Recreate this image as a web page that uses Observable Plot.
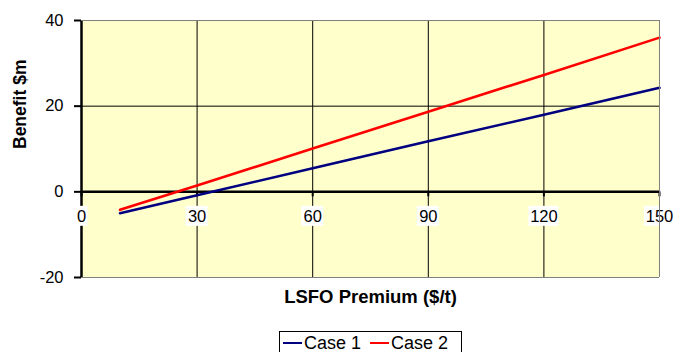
<!DOCTYPE html>
<html>
<head>
<meta charset="utf-8">
<script src="https://cdn.jsdelivr.net/npm/d3@7"></script>
<script src="https://cdn.jsdelivr.net/npm/@observablehq/plot@0.6"></script>
<style>
  html, body { margin: 0; padding: 0; background: #ffffff; }
  body { width: 674px; height: 352px; overflow: hidden; position: relative;
         font-family: "Liberation Sans", Arial, sans-serif; }
  #legend { position: absolute; left: 279px; top: 331px; width: 178px; height: 21px;
            border: 1px solid #000; border-bottom: none; background: #fff; display: flex; align-items: flex-start;
            font-size: 18px; line-height: 20px; color: #000; padding-left: 3px; box-sizing: content-box; }
  #legend .item { display: flex; align-items: center; margin-right: 9px; height: 20px; margin-top: 1px; }
  #legend .swatch { width: 19px; height: 0; border-top: 2.5px solid; margin-right: 2px; }
</style>
</head>
<body>
<div id="chart"></div>
<div id="legend"></div>
<script>
// LSFO premium ($/t) and the resulting benefit ($m) for each case
const premium = [10, 30, 60, 90, 120, 150];
const case1 = [-5.0, -0.8, 5.5, 11.8, 18.0, 24.3];
const case2 = [-4.2, 1.5, 10.1, 18.7, 27.3, 36.0];
const seriesNames = ["Case 1", "Case 2"];
const seriesColors = ["#000080", "#ff0000"];

const xTicks = [0, 30, 60, 90, 120, 150];
const yTicks = [-20, 0, 20, 40];

const rows = [
  ...premium.map((p, i) => ({premium: p, benefit: case1[i], series: seriesNames[0]})),
  ...premium.map((p, i) => ({premium: p, benefit: case2[i], series: seriesNames[1]}))
];

// white label boxes sized by the number of digits in each tick label
const labelBox = (digits, w) => Plot.rect(xTicks.filter(t => String(t).length === digits), {
  x1: d => d, x2: d => d, y1: 0, y2: 0,
  insetLeft: -w / 2, insetRight: -w / 2, insetTop: -10, insetBottom: -10, dy: 24.5,
  fill: "white"
});

const chart = Plot.plot({
  width: 674,
  height: 326,
  marginLeft: 81,
  marginRight: 15,
  marginTop: 20,
  marginBottom: 49,
  style: {fontFamily: "'Liberation Sans', Arial, sans-serif", background: "transparent"},
  x: {domain: [0, 150], axis: null},
  y: {domain: [-20, 40], axis: null},
  color: {domain: seriesNames, range: seriesColors},
  marks: [
    Plot.frame({fill: "#ffffcc", stroke: null}),
    Plot.ruleX(xTicks.filter(t => t > 0 && t < 150), {stroke: "black", strokeWidth: 1}),
    Plot.ruleY([20], {stroke: "black", strokeWidth: 1}),
    Plot.ruleX([0], {stroke: "black", strokeWidth: 2.5}),
    Plot.ruleY([0], {stroke: "black", strokeWidth: 2.5}),
    Plot.ruleX(xTicks, {y1: 0, y2: 0, insetBottom: -5, stroke: "black", strokeWidth: 2}),
    Plot.axisY({ticks: yTicks, tickSize: 7, tickPadding: 11, fontSize: 16.5, strokeWidth: 2,
                tickFormat: d => String(d), label: null, fill: "black"}),
    Plot.line(rows, {x: "premium", y: "benefit", stroke: "series", strokeWidth: 2.6}),
    labelBox(1, 13),
    labelBox(2, 22),
    labelBox(3, 30),
    Plot.text(xTicks, {x: d => d, y: 0, dy: 24.5, text: d => String(d), fontSize: 16.5, fill: "black"}),
    // grey plot-area border on the top, right and bottom sides
    Plot.ruleY([40, -20], {stroke: "#808080", strokeWidth: 1}),
    Plot.ruleX([150], {stroke: "#808080", strokeWidth: 1}),
    Plot.text(["LSFO Premium ($/t)"], {frameAnchor: "bottom", dy: 25, fontSize: 18.5, fontWeight: "bold", fill: "black"}),
    Plot.text(["Benefit $m"], {frameAnchor: "left", dx: -61, rotate: -90, fontSize: 17.5, fontWeight: "bold", fill: "black"})
  ]
});
document.getElementById("chart").append(chart);

// legend below the plot
const legend = document.getElementById("legend");
seriesNames.forEach((name, i) => {
  const item = document.createElement("div");
  item.className = "item";
  const sw = document.createElement("span");
  sw.className = "swatch";
  sw.style.borderTopColor = seriesColors[i];
  const label = document.createElement("span");
  label.textContent = name;
  item.append(sw, label);
  legend.append(item);
});
</script>
</body>
</html>
